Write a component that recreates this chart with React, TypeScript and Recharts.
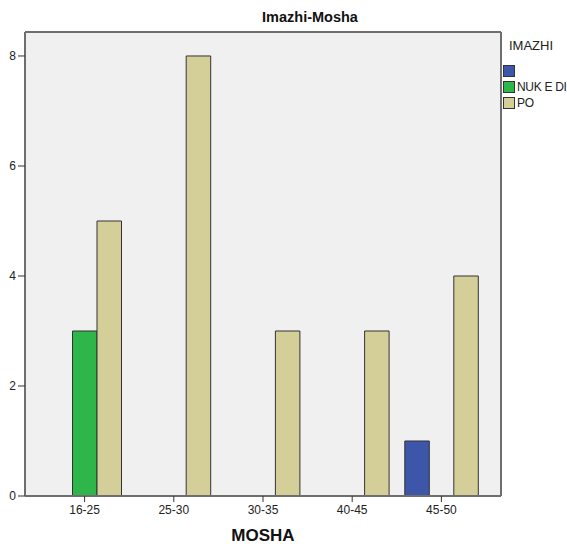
import React from "react";
import { BarChart, Bar, XAxis, YAxis, CartesianGrid } from "recharts";

const categories = ["16-25", "25-30", "30-35", "40-45", "45-50"];
const seriesNames = ["", "NUK E DI", "PO"];
const blankValues: (number | null)[] = [null, null, null, null, 1];
const nukEDiValues: (number | null)[] = [3, null, null, null, null];
const poValues: (number | null)[] = [5, 8, 3, 3, 4];
const yTicks = [0, 2, 4, 6, 8];
const colors = ["#3d56aa", "#2eb64b", "#d4cf98"];

const data = categories.map((c, i) => ({
  cat: c,
  s0: blankValues[i],
  s1: nukEDiValues[i],
  s2: poValues[i],
}));

const FONT = "'Liberation Sans', Arial, sans-serif";

const LegendBox = () => (
  <div style={{ position: "absolute", left: 503, top: 38, fontFamily: FONT, color: "#222" }}>
    <div style={{ fontSize: 13, height: 25, marginLeft: 6 }}>IMAZHI</div>
    {seriesNames.map((n, i) => (
      <div key={i} style={{ display: "flex", alignItems: "center", height: 16 }}>
        <div
          style={{
            width: 10,
            height: 10,
            background: colors[i],
            border: "1px solid #333",
            marginRight: 2,
          }}
        />
        <span style={{ fontSize: 12, letterSpacing: -0.3 }}>{n}</span>
      </div>
    ))}
  </div>
);

export default function App() {
  return (
    <div style={{ position: "absolute", left: 0, top: 0, width: 567, height: 544, background: "#fff" }}>
      <div
        style={{
          position: "absolute",
          left: 210,
          width: 200,
          top: 9,
          textAlign: "center",
          fontFamily: FONT,
          fontWeight: "bold",
          fontSize: 14.5,
          color: "#111",
        }}
      >
        Imazhi-Mosha
      </div>
      <BarChart
        width={567}
        height={544}
        data={data}
        margin={{ top: 32, right: 66, bottom: 0, left: 0 }}
        barGap={0}
        barSize={24.5}
      >
        <CartesianGrid
          fill="#f0f0f0"
          stroke="#6e6e6e"
          strokeWidth={2}
          horizontalPoints={[32, 496]}
          verticalPoints={[25, 501]}
        />
        <XAxis
          dataKey="cat"
          height={48}
          padding={{ left: 15, right: 15 }}
          tickSize={6}
          tickMargin={3}
          axisLine={{ stroke: "#6e6e6e", strokeWidth: 2 }}
          tickLine={{ stroke: "#333" }}
          tick={{ fontSize: 12, fill: "#222", fontFamily: FONT }}
          label={{
            value: "MOSHA",
            position: "insideBottom",
            offset: 3,
            style: { fontSize: 17, fontWeight: "bold", fill: "#111", fontFamily: FONT },
          }}
        />
        <YAxis
          width={25}
          domain={[0, 8.436]}
          ticks={yTicks}
          allowDataOverflow
          tickSize={7}
          tickMargin={2}
          axisLine={{ stroke: "#6e6e6e", strokeWidth: 2 }}
          tickLine={{ stroke: "#333" }}
          tick={{ fontSize: 12, fill: "#222", fontFamily: FONT }}
        />
        <Bar dataKey="s0" name={seriesNames[0] || " "} fill={colors[0]} stroke="#333" strokeWidth={1} isAnimationActive={false} />
        <Bar dataKey="s1" name={seriesNames[1]} fill={colors[1]} stroke="#333" strokeWidth={1} isAnimationActive={false} />
        <Bar dataKey="s2" name={seriesNames[2]} fill={colors[2]} stroke="#333" strokeWidth={1} isAnimationActive={false} />
      </BarChart>
      <LegendBox />
    </div>
  );
}
